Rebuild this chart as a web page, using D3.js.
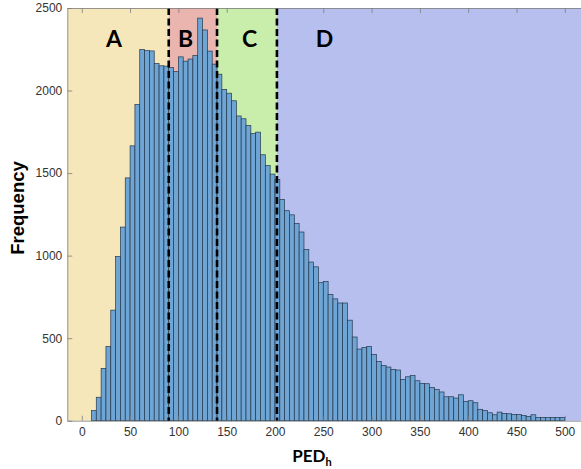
<!DOCTYPE html>
<html>
<head>
<meta charset="utf-8">
<script src="https://cdn.jsdelivr.net/npm/d3@7"></script>
<style>
  body { margin: 0; background: #fff; }
  svg { display: block; overflow: hidden; }
  .tick text { font-family: "Liberation Sans", Arial, sans-serif; font-size: 12px; fill: #333; }
</style>
</head>
<body>
<div id="chart"></div>
<script>
// histogram of PED_h, bin width 5, first bin starts at 10
const binWidth = 5;
const binStarts = d3.range(10, 500, binWidth);
const counts = [
  61, 142, 317, 450, 670, 995, 1173, 1471, 1665, 1916,
  2249, 2242, 2240, 2164, 2150, 2148, 2139, 2115, 2204, 2178,
  2191, 2212, 2439, 2367, 2239, 2160, 2099, 2007, 1984, 1938,
  1846, 1829, 1788, 1740, 1748, 1611, 1546, 1494, 1461, 1340,
  1272, 1247, 1195, 1143, 1038, 961, 932, 836, 844, 765,
  738, 713, 713, 609, 507, 434, 444, 450, 402, 359,
  335, 325, 311, 307, 250, 266, 274, 242, 226, 224,
  202, 190, 174, 145, 145, 137, 157, 117, 121, 109,
  69, 61, 48, 36, 52, 44, 42, 38, 38, 32,
  26, 36, 20, 20, 20, 20, 20, 20
];

// shaded regions and their boundaries
const regionLabels = ["A", "B", "C", "D"];
const regionEdges = [-15, 90, 140, 202, 530];
const regionColors = ["#f6e7bb", "#eab5ae", "#c9eeab", "#b7bfef"];
const cutLines = [90, 140, 202];

const xTicks = d3.range(0, 501, 50);
const yTicks = [0, 500, 1000, 1500, 2000, 2500];

const W = 581, H = 469;
const plotLeft = 67.3, plotTop = 8, plotBottom = 420.7;

const svg = d3.select("#chart").append("svg")
    .attr("width", W)
    .attr("height", H);

const x = d3.scaleLinear()
    .domain([-15, 530])
    .range([plotLeft, plotLeft + 0.966 * 545]);

const y = d3.scaleLinear()
    .domain([0, 2500])
    .range([plotBottom, plotTop]);

// background bands
svg.append("g").selectAll("rect")
  .data(regionLabels)
  .join("rect")
    .attr("x", (d, i) => x(regionEdges[i]))
    .attr("y", y(2500))
    .attr("width", (d, i) => x(regionEdges[i + 1]) - x(regionEdges[i]))
    .attr("height", y(0) - y(2500))
    .attr("fill", (d, i) => regionColors[i]);

// bars
svg.append("g").selectAll("rect")
  .data(counts)
  .join("rect")
    .attr("x", (d, i) => x(binStarts[i]))
    .attr("y", d => y(d))
    .attr("width", x(binWidth) - x(0))
    .attr("height", d => y(0) - y(d))
    .attr("fill", "#6ea5d4")
    .attr("stroke", "#24384e")
    .attr("stroke-width", 0.7);

// dashed cut lines
svg.append("g").selectAll("line")
  .data(cutLines)
  .join("line")
    .attr("x1", d => x(d))
    .attr("x2", d => x(d))
    .attr("y1", y(2500))
    .attr("y2", y(0))
    .attr("stroke", "#000")
    .attr("stroke-width", 2.6)
    .attr("stroke-dasharray", "7,3.5");

// region letters
svg.append("g").selectAll("text")
  .data(regionLabels)
  .join("text")
    .attr("x", (d, i) => [114, 185.5, 249.5, 324.5][i])
    .attr("y", 47)
    .attr("text-anchor", "middle")
    .style("font-family", "Lato, 'Open Sans', sans-serif")
    .style("font-weight", "bold")
    .style("font-size", "23px")
    .attr("fill", "#000")
    .text(d => d);

// axes (MATLAB style, ticks inside)
const axisColor = "#7d7d7d";

const gx = svg.append("g")
    .attr("transform", `translate(0,${plotBottom})`)
    .call(d3.axisBottom(x).tickValues(xTicks).tickSizeInner(-5).tickSizeOuter(0).tickPadding(7));

const gxTop = svg.append("g")
    .attr("transform", `translate(0,${plotTop})`)
    .call(d3.axisTop(x).tickValues(xTicks).tickSizeInner(-5).tickSizeOuter(0).tickFormat(""));

const gy = svg.append("g")
    .attr("transform", `translate(${plotLeft},0)`)
    .call(d3.axisLeft(y).tickValues(yTicks).tickFormat(d3.format("d"))
      .tickSizeInner(-5).tickSizeOuter(0).tickPadding(5));

[gx, gxTop, gy].forEach(g => {
  g.select(".domain").attr("stroke", axisColor).attr("stroke-width", 0.8);
  g.selectAll(".tick line").attr("stroke", axisColor).attr("stroke-width", 0.8);
});

// axis titles
svg.append("text")
    .attr("transform", "translate(24,208) rotate(-90)")
    .attr("text-anchor", "middle")
    .style("font-family", "'Liberation Sans', Arial, sans-serif")
    .style("font-weight", "bold")
    .style("font-size", "18.5px")
    .attr("fill", "#000")
    .text("Frequency");

const xl = svg.append("text")
    .attr("x", 312)
    .attr("y", 462)
    .attr("text-anchor", "middle")
    .style("font-family", "Lato, 'Open Sans', sans-serif")
    .style("font-weight", "bold")
    .style("font-size", "17px")
    .attr("fill", "#000");
xl.append("tspan").text("PED");
xl.append("tspan")
    .attr("dy", 3.5)
    .style("font-size", "11px")
    .text("h");
</script>
</body>
</html>
